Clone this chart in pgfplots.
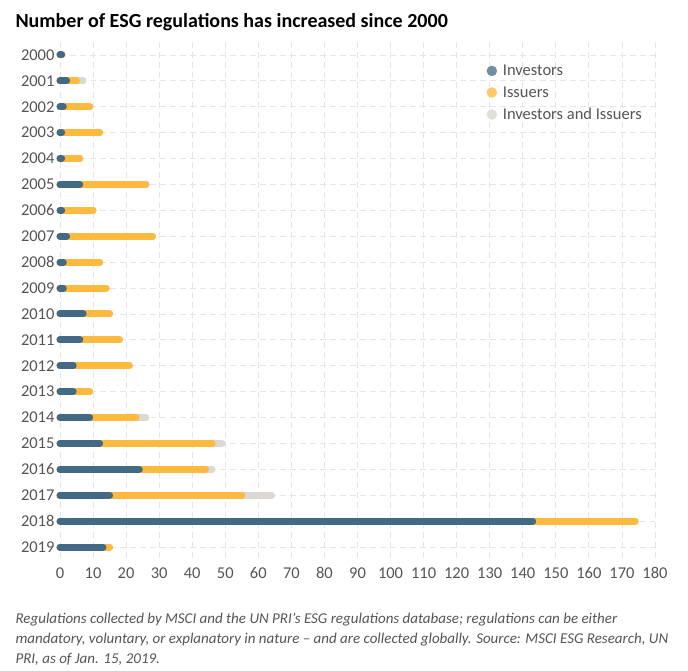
\documentclass[border=0pt]{standalone}
\usepackage{pgfplots}
\pgfplotsset{compat=1.18}
\usepackage{pgfplotstable}
\usepackage{fontspec}
\setmainfont{Carlito}
\definecolor{inv}{HTML}{426A85}
\definecolor{iss}{HTML}{FDBA3F}
\definecolor{both}{HTML}{DCD9D3}
\definecolor{txt}{HTML}{555555}
\definecolor{gridc}{HTML}{E6E6E6}
\pgfplotstableread{
year inv iss both
2000 0.5 0 0
2001 2 3 2
2002 1 8 0
2003 0.5 11.5 0
2004 0.5 5.5 0
2005 6 20 0
2006 0.5 9.5 0
2007 2 26 0
2008 1 11 0
2009 1 13 0
2010 7 8 0
2011 6 12 0
2012 4 17 0
2013 4 5 0
2014 9 14 3
2015 12 34 3
2016 24 20 2
2017 15 40 9
2018 143 31 0
2019 13 2 0
}\data
\begin{document}
\begin{tikzpicture}
\path[use as bounding box] (0,0) rectangle (688pt,670pt);
\node[anchor=west,font=\bfseries\fontsize{20}{22}\selectfont] at (12pt,648pt) {Number of ESG regulations has increased since 2000};
\begin{axis}[
  at={(60pt,110pt)}, anchor=south west,
  scale only axis, width=595pt, height=518pt,
  xmin=0, xmax=180, ymin=1999.5, ymax=2019.5,
  y dir=reverse,
  axis line style={draw=none},
  xtick={0,10,...,180}, ytick={2000,...,2019},
  yticklabel style={/pgf/number format/1000 sep={}},
  /pgf/number format/assume math mode=true,
  tick style={draw=none},
  ticklabel style={font=\fontsize{16.5}{18}\selectfont, text=txt},
  xticklabel style={yshift=-4pt},
  yticklabel style={xshift=-2pt},
  grid=major,
  major grid style={gridc, dash pattern=on 6pt off 4pt, line width=0.8pt},
  clip=false,
  legend style={draw=none, fill=none, at={(0.712,0.964)}, anchor=north west,
    font=\fontsize{16.5}{18}\selectfont, text=txt, row sep=5.5pt,
    legend cell align=left, nodes={inner ysep=2pt},
    /tikz/every odd column/.append style={column sep=4pt}},
]
\addplot[xcomb, both, line width=7pt, line cap=round, forget plot] table[x expr=\thisrow{inv}+\thisrow{iss}+\thisrow{both}, y=year]{\data};
\addplot[xcomb, iss, line width=7pt, line cap=round, forget plot] table[x expr=\thisrow{inv}+\thisrow{iss}, y=year]{\data};
\addplot[xcomb, inv, line width=7pt, line cap=round, forget plot] table[x=inv, y=year]{\data};
\addlegendimage{only marks, mark=*, mark size=5pt, color=inv!75!white}
\addlegendentry{Investors}
\addlegendimage{only marks, mark=*, mark size=5pt, color=iss!80!white}
\addlegendentry{Issuers}
\addlegendimage{only marks, mark=*, mark size=5pt, color=both!85!white}
\addlegendentry{Investors and Issuers}
\end{axis}
\node[anchor=north west, align=left, text=txt, font=\itshape\fontsize{15}{20}\selectfont] at (12pt,60pt)
 {Regulations collected by MSCI and the UN PRI's ESG regulations database; regulations can be either\\
 mandatory, voluntary, or explanatory in nature -- and are collected globally. Source: MSCI ESG Research, UN\\
 PRI, as of Jan. 15, 2019.};
\end{tikzpicture}
\end{document}
